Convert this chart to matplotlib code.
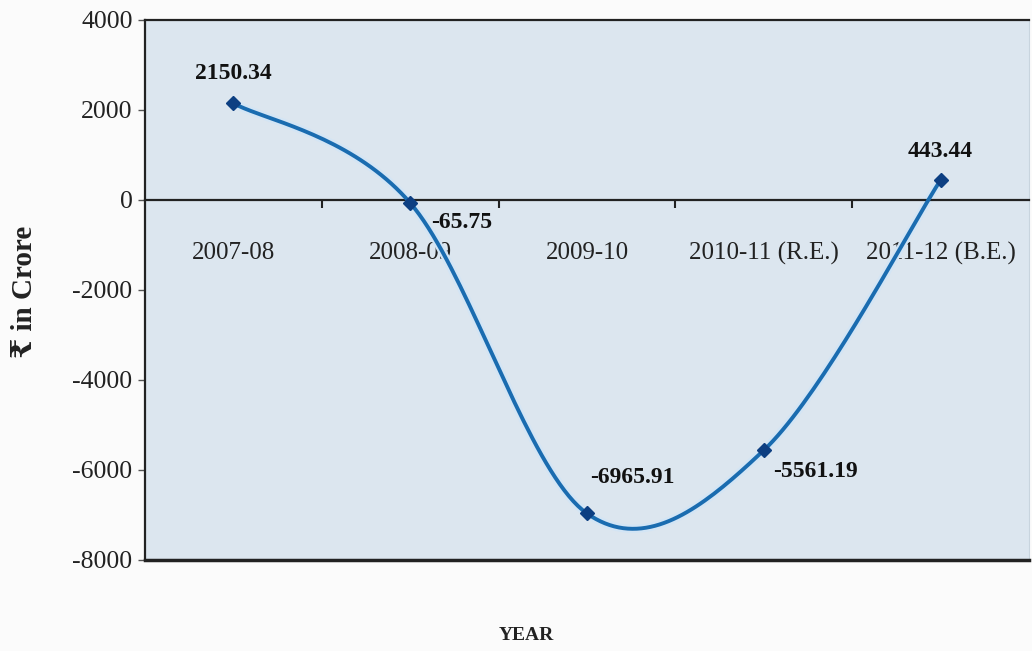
import numpy as np
import matplotlib.pyplot as plt

years = ["2007-08", "2008-09", "2009-10", "2010-11 (R.E.)", "2011-12 (B.E.)"]
values = [2150.34, -65.75, -6965.91, -5561.19, 443.44]
labels = ["2150.34", "-65.75", "-6965.91", "-5561.19", "443.44"]
yticks = [4000, 2000, 0, -2000, -4000, -6000, -8000]

serif = ["Liberation Serif", "DejaVu Serif", "DejaVu Sans"]
plt.rcParams['font.family'] = serif


def smooth(xs, ys, n=40):
    # Catmull-Rom curve, like the "smoothed line" option in spreadsheets
    px = np.concatenate([[xs[0]], xs, [xs[-1]]])
    py = np.concatenate([[ys[0]], ys, [ys[-1]]])
    outx, outy = [], []
    for i in range(1, len(px) - 2):
        t = np.linspace(0, 1, n)
        p0, p1, p2, p3 = [np.array([px[j], py[j]]) for j in range(i - 1, i + 3)]
        c1 = p1 + (p2 - p0) / 6
        c2 = p2 - (p3 - p1) / 6
        b = ((1 - t) ** 3)[:, None] * p1 + (3 * (1 - t) ** 2 * t)[:, None] * c1 \
            + (3 * (1 - t) * t ** 2)[:, None] * c2 + (t ** 3)[:, None] * p2
        outx.extend(b[:, 0])
        outy.extend(b[:, 1])
    return np.array(outx), np.array(outy)


fig = plt.figure(figsize=(10.32, 6.51), dpi=100, facecolor='#fbfbfb')
ax = fig.add_axes([145 / 1032, 1 - 560 / 651, 884 / 1032, 540 / 651])
ax.set_facecolor('#dce6ef')

x = np.arange(len(years))
sx, sy = smooth(x, np.array(values))
ax.plot(sx, sy, color='#d3e5f5', lw=6, solid_capstyle='round', zorder=2)
ax.plot(sx, sy, color='#1a6cb0', lw=2.8, zorder=3)
ax.plot(x, values, ls='none', marker='D', ms=7, color='#0d3f82', zorder=4)

ax.set_xlim(-0.5, len(years) - 0.5)
ax.set_ylim(-8000, 4000)
ax.set_yticks(yticks)
ax.set_yticklabels([str(v) for v in yticks], fontsize=18.5, color='#222222')
ax.tick_params(axis='y', length=5, width=1, color='#555555', pad=4)

# category axis sits on the zero line
ax.spines['bottom'].set_position(('data', 0))
ax.spines['bottom'].set_linewidth(1.6)
ax.spines['bottom'].set_color('#222222')
ax.set_xticks(x)
ax.set_xticklabels(years, fontsize=18, color='#222222')
ax.set_xticks(np.arange(0.5, len(years) - 1, 1), minor=True)
ax.tick_params(axis='x', which='major', length=0, pad=30)
ax.tick_params(axis='x', which='minor', length=6, width=1.5, color='#222222')
ax.axhline(-8000, color='#222222', lw=2.5, clip_on=False, zorder=5)
ax.spines['top'].set_linewidth(1.6)
ax.spines['left'].set_linewidth(1.6)
for s in ['top', 'left']:
    ax.spines[s].set_color('#222222')
ax.spines['right'].set_color('#c8d4de')

# value labels (pixel offsets converted to points)
offsets = [(0, 30, 'center'), (21, -20, 'left'), (45, 36, 'center'),
           (9, -21, 'left'), (0, 29, 'center')]
for xi, v, lab, (dx, dy, ha) in zip(x, values, labels, offsets):
    ax.annotate(lab, (xi, v), xytext=(dx * 0.72, dy * 0.72), textcoords='offset points',
                ha=ha, va='center', fontsize=17, fontweight='bold', color='#111111', zorder=6)

fig.text(25 / 1032, 1 - 292 / 651, "₹ in Crore", rotation=90, ha='center', va='center',
         fontsize=21, fontweight='bold', color='#222222')
fig.text(526 / 1032, 1 - 636 / 651, "YEAR", ha='center', va='center',
         fontsize=14, fontweight='bold', color='#222222')

fig.savefig('out.png', dpi=100, facecolor=fig.get_facecolor())
